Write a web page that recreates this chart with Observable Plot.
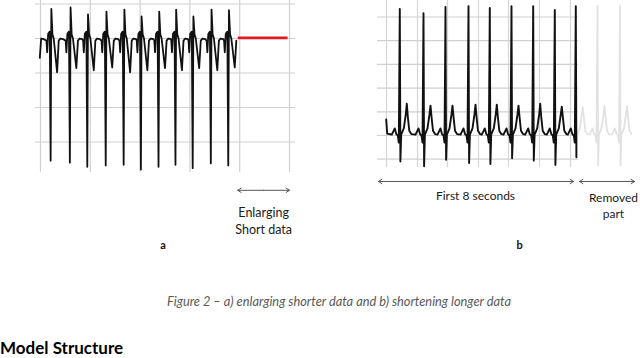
<!DOCTYPE html>
<html><head><meta charset="utf-8">
<script src="https://cdn.jsdelivr.net/npm/d3@7"></script>
<script src="https://cdn.jsdelivr.net/npm/@observablehq/plot@0.6"></script>
<style>
html,body{margin:0;padding:0;background:#fff;}
#fig{position:relative;width:640px;height:358px;overflow:hidden;font-family:Lato,"Open Sans",sans-serif;}
#pa{position:absolute;left:35px;top:0;}
#pb{position:absolute;left:372px;top:0;}
#cap{position:absolute;left:0;width:678px;top:293px;text-align:center;font-style:italic;font-size:12.8px;color:#595959;white-space:nowrap;}
#hd{position:absolute;left:0;top:338px;font-weight:bold;font-size:17px;line-height:20px;color:#000;white-space:nowrap;}
</style></head><body>
<div id="fig"><div id="pa"></div><div id="pb"></div>
<div id="cap">Figure 2 – a) enlarging shorter data and b) shortening longer data</div>
<div id="hd">Model Structure</div></div>
<script>
// ---------- Panel a data (x: samples, y: mV) ----------
const aGridX = [0, 50, 100, 150, 200, 250];
const aGridY = [0.5, 0, -0.5, -1, -1.5];
const aLeadT = [-0.7, 0.7, 3.3];
const aLeadMv = [-0.28, 0.00, -0.01];
const aBeatR = [10.7, 30, 47.5, 66, 84, 101.3, 119, 136, 153.3, 171.5, 189];
const aBeatRmv = [0.43, 0.45, 0.35, 0.39, 0.42, 0.32, 0.39, 0.42, 0.32, 0.42, 0.41];
const aBeatSmv = [-1.77, -1.80, -1.86, -1.84, -1.83, -1.90, -1.86, -1.83, -1.88, -1.81, -1.84];
const aBeatTmv = [-0.49, -0.43, -0.46, -0.42, -0.49, -0.46, -0.43, -0.46, -0.43, -0.46, -0.42];
const aShapeDt = [-4.7, -4, -3, -1.4, -0.5, 0.2, 1.3, 2.6, 6, 7.6, 9.3, 12];
const aShapeMv = [-0.03, -0.20, 0.07, 0.10, "S", "R", 0.06, 0.00, "T", -0.03, 0.00, -0.01];
const aEndT = 198;
const aPadT = [198, 248];
const aPadMv = [0.01, 0.01];
const aArrowSpan = [198, 250];

// ---------- Panel b data (x: samples, y: mV) ----------
const bGridX = [9, 40, 70, 101, 131, 162, 193];
const bGridY = [2.5, 2, 1.5, 1, 0.5, 0, -0.5];
const bLeadT = [8.7, 9.7];
const bLeadMv = [0.34, 0.04];
const bBeatR = [22.3, 46, 68, 91, 112.3, 134, 155.7, 177.3, 198.3, 220, 242.5];
const bBeatRmv = [2.67, 2.58, 2.71, 2.73, 2.69, 2.73, 2.73, 2.65, 2.73, 2.74, 2.74];
const bBeatSmv = [-0.55, -0.65, -0.51, -0.58, -0.60, -0.48, -0.53, -0.62, -0.46, -0.63, -0.63];
const bBeatTmv = [0.67, 0.63, 0.63, 0.65, 0.65, 0.63, 0.67, 0.61, 0.60, 0.62, 0.62];
const bShapeDt = [-8, -5, -3.5, -2, -1, 0, 0.6, 1.4, 4, 6, 7, 8, 9.5, 11.5];
const bShapeMv = [0.02, 0.15, 0.03, 0.00, -0.15, "R", "S", 0.02, 0.15, 0.45, "T", 0.40, 0.10, 0.03];
const bCutT = 198.9;
const bEndT = 255;
const bKeptSpan = [1, 196];
const bRemovedSpan = [202, 257];

function buildTrace(leadT, leadMv, beatR, rMv, sMv, tMv, dt, shape) {
  const pts = leadT.map((t, i) => ({t, mv: leadMv[i]}));
  beatR.forEach((r, b) => dt.forEach((d, k) => {
    const s = shape[k];
    const mv = s === "R" ? rMv[b] : s === "S" ? sMv[b] : s === "T" ? tMv[b] : s;
    pts.push({t: +(r + d).toFixed(2), mv});
  }));
  return pts;
}
function spanArrows(span) {
  const mid = (span[0] + span[1]) / 2;
  return span.map(e => ({from: mid, to: e}));
}

const aTrace = buildTrace(aLeadT, aLeadMv, aBeatR, aBeatRmv, aBeatSmv, aBeatTmv, aShapeDt, aShapeMv)
  .filter(d => d.t <= aEndT);
const aPad = aPadT.map((t, i) => ({t, mv: aPadMv[i]}));
const bAll = buildTrace(bLeadT, bLeadMv, bBeatR, bBeatRmv, bBeatSmv, bBeatTmv, bShapeDt, bShapeMv);
const bKept = bAll.filter(d => d.t <= bCutT);
const bRemoved = bAll.filter(d => d.t >= bCutT && d.t <= bEndT);

const labelFont = {fontFamily: "Lato, 'Open Sans', sans-serif"};
const arrowStyle = {stroke: "#555", strokeWidth: 1, headLength: 6, headAngle: 64};

const plotA = Plot.plot({
  width: 260, height: 260,
  marginTop: 0, marginRight: 0, marginBottom: 88, marginLeft: 0,
  x: {domain: [-5, 256], axis: null},
  y: {domain: [-1.942, 0.551], axis: null},
  style: {...labelFont, overflow: "visible", background: "transparent"},
  marks: [
    Plot.ruleX(aGridX, {stroke: "#d0d0d0", strokeWidth: 1.2}),
    Plot.ruleY(aGridY, {stroke: "#d0d0d0", strokeWidth: 1.2}),
    Plot.line(aTrace, {x: "t", y: "mv", stroke: "#111", strokeWidth: 1.8}),
    Plot.line(aPad, {x: "t", y: "mv", stroke: "#e31a1c", strokeWidth: 2.6, strokeLinecap: "butt"}),
    Plot.arrow(spanArrows(aArrowSpan), {x1: "from", x2: "to", y1: -2.2, y2: -2.2, ...arrowStyle}),
    Plot.text(["Enlarging\nShort data"], {x: (aArrowSpan[0] + aArrowSpan[1]) / 2, y: -2.40, text: d => d,
      lineAnchor: "top", lineHeight: 1.4, fontSize: 12.5, fill: "#1a1a1a"}),
    Plot.text(["a"], {x: 123, y: -3.0, text: d => d, fontSize: 11, fontWeight: "bold", fill: "#111"})
  ]
});
document.getElementById("pa").appendChild(plotA);

const plotB = Plot.plot({
  width: 268, height: 260,
  marginTop: 0, marginRight: 0, marginBottom: 93, marginLeft: 0,
  x: {domain: [-5, 263], axis: null},
  y: {domain: [-0.675, 2.848], axis: null},
  style: {...labelFont, overflow: "visible", background: "transparent"},
  marks: [
    Plot.ruleX(bGridX, {stroke: "#d6d6d6", strokeWidth: 1.2}),
    Plot.ruleY(bGridY, {x1: 0, x2: 201, stroke: "#d0d0d0", strokeWidth: 1.2}),
    Plot.line(bRemoved, {x: "t", y: "mv", stroke: "#e2e2e2", strokeWidth: 1.8}),
    Plot.line(bKept, {x: "t", y: "mv", stroke: "#111", strokeWidth: 1.9}),
    Plot.arrow(spanArrows(bKeptSpan), {x1: "from", x2: "to", y1: -0.97, y2: -0.97, ...arrowStyle}),
    Plot.arrow(spanArrows(bRemovedSpan), {x1: "from", x2: "to", y1: -0.97, y2: -0.97, ...arrowStyle}),
    Plot.text(["First 8 seconds"], {x: 98, y: -1.29, text: d => d, fontSize: 12, fill: "#1a1a1a"}),
    Plot.text(["Removed\npart"], {x: 236, y: -1.17, text: d => d, lineAnchor: "top", lineHeight: 1.3, fontSize: 12, fill: "#1a1a1a"}),
    Plot.text(["b"], {x: 142, y: -2.32, text: d => d, fontSize: 11, fontWeight: "bold", fill: "#111"})
  ]
});
document.getElementById("pb").appendChild(plotB);
</script>
</body></html>
